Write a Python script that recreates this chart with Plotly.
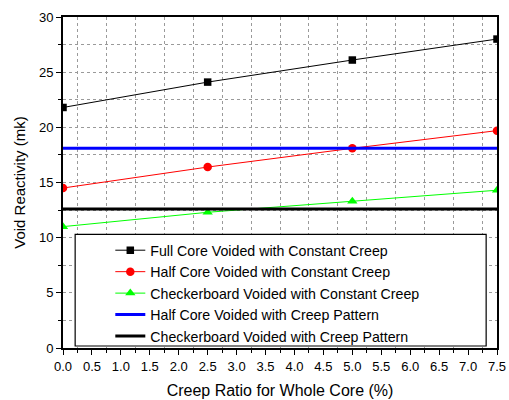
import plotly.graph_objects as go

creep = [0.0, 2.5, 5.0, 7.5]
full_const = [21.8, 24.1, 26.1, 28.0]
half_const = [14.5, 16.4, 18.1, 19.7]
checker_const = [11.0, 12.3, 13.3, 14.3]
half_pattern = [18.1, 18.1, 18.1, 18.1]
checker_pattern = [12.6, 12.6, 12.6, 12.6]

names = [
    "Full Core Voided with Constant Creep",
    "Half Core Voided with Constant Creep",
    "Checkerboard Voided with Constant Creep",
    "Half Core Voided with Creep Pattern",
    "Checkerboard Voided with Creep Pattern",
]

FONT = "Liberation Sans, Arial, sans-serif"
GRID = dict(showgrid=True, gridcolor="#9a9a9a", griddash="dot", gridwidth=1)

fig = go.Figure()
fig.add_trace(go.Scatter(x=creep, y=full_const, name=names[0], mode="lines+markers",
                         line=dict(color="black", width=1),
                         marker=dict(symbol="square", size=7.5, color="black")))
fig.add_trace(go.Scatter(x=creep, y=half_const, name=names[1], mode="lines+markers",
                         line=dict(color="red", width=1),
                         marker=dict(symbol="circle", size=8.5, color="red")))
fig.add_trace(go.Scatter(x=creep, y=checker_const, name=names[2], mode="lines+markers",
                         line=dict(color="#00ff00", width=1),
                         marker=dict(symbol="triangle-up", size=9, color="#00ff00")))
fig.add_trace(go.Scatter(x=creep, y=half_pattern, name=names[3], mode="lines",
                         line=dict(color="#0000ff", width=3)))
fig.add_trace(go.Scatter(x=creep, y=checker_pattern, name=names[4], mode="lines",
                         line=dict(color="black", width=3)))

# legend frame
fig.add_shape(type="rect", xref="paper", yref="paper", x0=0.028, x1=0.975, y0=0.006, y1=0.343,
              fillcolor="white", line=dict(color="black", width=1.2), layer="above")

fig.update_layout(
    width=509, height=400,
    margin=dict(l=63, r=12, t=17, b=52),
    paper_bgcolor="white", plot_bgcolor="white",
    font=dict(family=FONT, size=13, color="black"),
    showlegend=True,
    legend=dict(x=0.109, y=0.343, xanchor="left", yanchor="top",
                bgcolor="rgba(0,0,0,0)", borderwidth=0,
                font=dict(family=FONT, size=14.2, color="black"),
                tracegroupgap=0, itemwidth=30),
    xaxis=dict(range=[0, 7.5], dtick=0.5, tick0=0, tickformat=".1f",
               showgrid=False, zeroline=False, automargin=False,
               showline=True, linecolor="black", linewidth=2, mirror=True,
               ticks="outside", ticklen=5, tickwidth=1, tickcolor="black",
               minor=dict(dtick=0.25, ticks="outside", ticklen=3, tickcolor="black", **GRID),
               title=dict(text="Creep Ratio for Whole Core (%)", font=dict(size=16), standoff=12),
               tickfont=dict(size=13)),
    yaxis=dict(range=[0, 30], dtick=5, tick0=0, zeroline=False, automargin=False,
               showline=True, linecolor="black", linewidth=2, mirror=True,
               ticks="outside", ticklen=5, tickwidth=1, tickcolor="black",
               minor=dict(dtick=2.5, ticks="outside", ticklen=3, tickcolor="black", **GRID),
               title=dict(text="Void Reactivity (mk)", font=dict(size=15), standoff=10),
               tickfont=dict(size=13), **GRID),
)

fig.write_html("out.html")
